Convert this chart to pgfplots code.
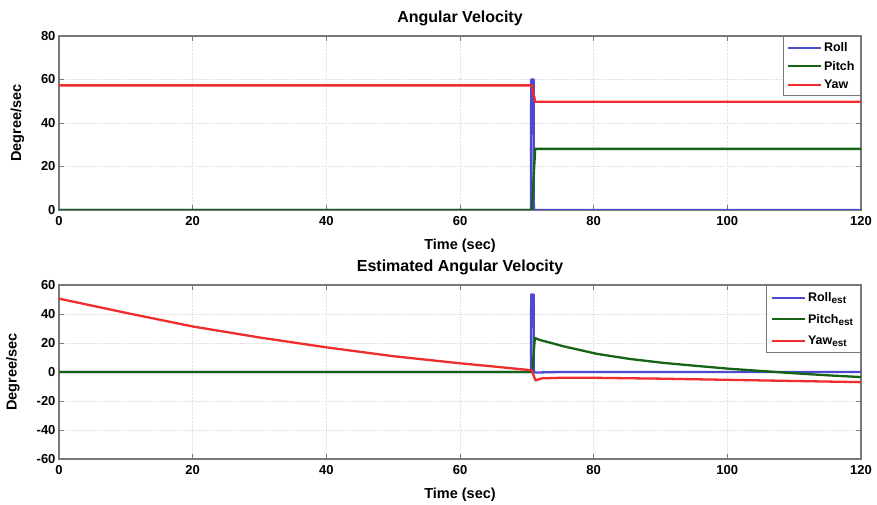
\documentclass[border=0pt]{standalone}
\usepackage{fontspec}
\setmainfont{Liberation Sans}
\usepackage{pgfplots}
\pgfplotsset{compat=1.18}
\definecolor{cRoll}{RGB}{75,75,210}
\definecolor{cPitch}{RGB}{20,100,20}
\definecolor{cYaw}{RGB}{240,45,45}
\definecolor{cAxis}{RGB}{120,120,120}
\pgfplotsset{
  myax/.style={
    scale only axis, width=802pt, height=174pt, anchor=south west,
    xmin=0, xmax=120, xtick={0,20,...,120},
    axis line style={cAxis, line width=1.3pt},
    tick style={cAxis, line width=0.8pt}, tick align=inside, major tick length=5pt,
    grid=major, grid style={densely dotted, gray!22, line width=0.5pt},
    /pgf/number format/assume math mode=true,
    ticklabel style={font=\bfseries\fontsize{13}{13}\selectfont, text=black},
    xticklabel style={yshift=-3pt},
    label style={font=\bfseries\fontsize{14.5}{14.5}\selectfont},
    title style={font=\bfseries\fontsize{16}{16}\selectfont, yshift=1pt},
    xlabel={Time (sec)}, ylabel={Degree/sec},
    xlabel style={yshift=-6pt},
    ylabel style={yshift=10pt},
    legend style={font=\bfseries\fontsize{12.5}{12.5}\selectfont, draw=cAxis, line width=0.9pt,
      at={(1,1)}, anchor=north east, row sep=4pt, inner sep=4pt},
    legend cell align=left,
    legend image code/.code={\draw[#1, line width=2pt] (0pt,0pt) -- (33pt,0pt);},
  },
  ln/.style={line width=2.3pt, line join=round, #1},
}
\newcommand{\est}{\textsubscript{\fontsize{10}{10}\selectfont est}}
\begin{document}
\begin{tikzpicture}
\path[use as bounding box] (0pt,0pt) rectangle (877pt,505pt);
\begin{axis}[myax, at={(59pt,295pt)}, ymin=0, ymax=80, ytick={0,20,...,80},
  title={Angular Velocity}]
\addplot[ln=cRoll] coordinates {(0,0) (70.62,0) (70.65,60) (71.02,60) (71.05,0) (120,0)};
\addplot[ln=cPitch] coordinates {(0,0) (70.75,0) (71.25,28.1) (120,28.1)};
\addplot[ln=cYaw] coordinates {(0,57.3) (70.75,57.3) (71.25,49.8) (120,49.8)};
\legend{Roll,Pitch,Yaw}
\end{axis}
\begin{axis}[myax, at={(59pt,46pt)}, ymin=-60, ymax=60, ytick={-60,-40,...,60},
  title={Estimated Angular Velocity},
  legend style={row sep=7pt, inner sep=5pt}]
\addplot[ln=cRoll] coordinates {(0,0) (70.62,0) (70.65,53.5) (71.02,53.5) (71.05,-0.4) (75,0) (120,0)};
\addplot[ln=cPitch] coordinates {(0,0) (70.8,0) (71.2,23.5) (72,22) (73,20.8) (75.5,17.7) (80.5,12.5) (85.4,9) (90.4,6.3) (95.4,4.2) (100.4,2.2) (105.4,0.6) (110.4,-1) (115.4,-2.4) (120,-3.5)};
\addplot[ln=cYaw] coordinates {(0,50.6) (10,40.8) (20,31.4) (30,23.8) (40,17) (50,10.9) (60,6) (65,3.8) (70.7,1.2) (71.3,-5.8) (72.2,-4.4) (75,-4.0) (80,-4.0) (90,-4.6) (100,-5.4) (110,-6.2) (120,-7)};
\legend{Roll\est,Pitch\est,Yaw\est}
\end{axis}
\end{tikzpicture}
\end{document}
